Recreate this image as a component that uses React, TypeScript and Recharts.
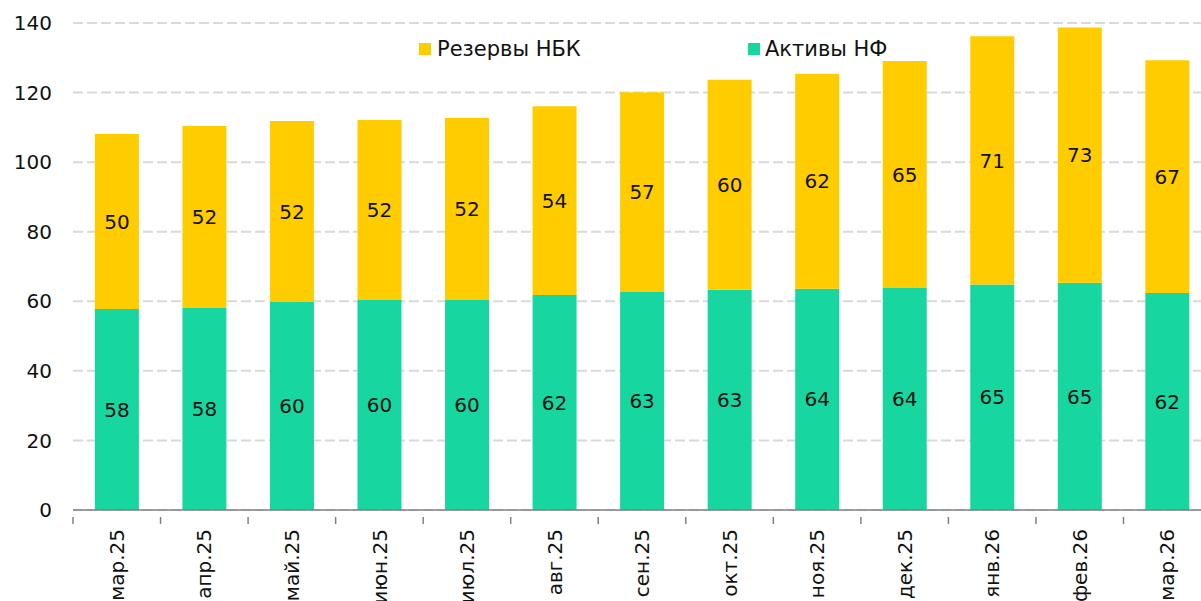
import React from "react";
import { BarChart, Bar, XAxis, YAxis, CartesianGrid, LabelList, Legend } from "recharts";

const categories = ["мар.25", "апр.25", "май.25", "июн.25", "июл.25", "авг.25", "сен.25", "окт.25", "ноя.25", "дек.25", "янв.26", "фев.26", "мар.26"];
const assetsNF = [57.8, 58.1, 59.8, 60.4, 60.4, 61.8, 62.7, 63.3, 63.6, 63.8, 64.8, 65.3, 62.4];
const reservesNBK = [50.3, 52.3, 52.0, 51.7, 52.3, 54.3, 57.4, 60.4, 61.8, 65.3, 71.4, 73.4, 66.9];
const yTicks = [0, 20, 40, 60, 80, 100, 120, 140];

const data = categories.map((c, i) => ({ name: c, nf: assetsNF[i], nbk: reservesNBK[i] }));

const GREEN = "#17D6A0";
const YELLOW = "#FFCC00";
const FONT = "'DejaVu Sans', Verdana, sans-serif";
const HALF_BAND = 43.75;

const XTick = (props: any) => {
  const { x, y, payload } = props;
  return (
    <g>
      <line x1={x - HALF_BAND} y1={y - 1} x2={x - HALF_BAND} y2={y + 6} stroke="#808080" strokeWidth={1.5} />
      <text
        x={x}
        y={y + 11}
        transform={`rotate(-90, ${x}, ${y + 11})`}
        textAnchor="end"
        dy="0.36em"
        fontSize={20}
        fontFamily={FONT}
        fill="#111"
      >
        {payload.value}
      </text>
    </g>
  );
};

const LegendContent = () => (
  <div style={{ position: "relative", height: 24, fontFamily: FONT, fontSize: 21, color: "#111" }}>
    <div style={{ position: "absolute", left: 419, top: 0, display: "flex", alignItems: "center" }}>
      <span style={{ display: "inline-block", width: 12, height: 12, background: YELLOW, marginRight: 6 }} />
      <span>Резервы НБК</span>
    </div>
    <div style={{ position: "absolute", left: 748, top: 0, display: "flex", alignItems: "center" }}>
      <span style={{ display: "inline-block", width: 12, height: 12, background: GREEN, marginRight: 5 }} />
      <span>Активы НФ</span>
    </div>
  </div>
);

export default function App() {
  return (
    <div style={{ position: "absolute", left: 0, top: 0, width: 1201, height: 601, overflow: "hidden", background: "#fff" }}>
      <BarChart
        width={1211}
        height={601}
        data={data}
        margin={{ top: 23, right: 0, bottom: 0, left: 0 }}
        barCategoryGap="25%"
      >
        <CartesianGrid vertical={false} stroke="#d9d9d9" strokeWidth={2} strokeDasharray="10 4" />
        <XAxis
          dataKey="name"
          height={91}
          interval={0}
          tickLine={false}
          axisLine={{ stroke: "#808080", strokeWidth: 1.5 }}
          tick={<XTick />}
        />
        <YAxis
          width={73}
          domain={[0, 140]}
          ticks={yTicks}
          axisLine={false}
          tickLine={false}
          tickSize={0}
          tickMargin={21}
          tick={{ fontSize: 20, fontFamily: FONT, fill: "#111" }}
        />
        <Legend
          layout="horizontal"
          verticalAlign="middle"
          align="center"
          wrapperStyle={{ top: 37, left: 0, width: 1201 }}
          content={<LegendContent />}
        />
        <Bar dataKey="nf" name="Активы НФ" stackId="a" fill={GREEN} isAnimationActive={false}>
          <LabelList
            dataKey="nf"
            position="center"
            formatter={(v: any) => Math.round(Number(v))}
            style={{ fontSize: 20, fontFamily: FONT, fill: "#111" }}
          />
        </Bar>
        <Bar dataKey="nbk" name="Резервы НБК" stackId="a" fill={YELLOW} isAnimationActive={false}>
          <LabelList
            dataKey="nbk"
            position="center"
            formatter={(v: any) => Math.round(Number(v))}
            style={{ fontSize: 20, fontFamily: FONT, fill: "#111" }}
          />
        </Bar>
      </BarChart>
    </div>
  );
}
